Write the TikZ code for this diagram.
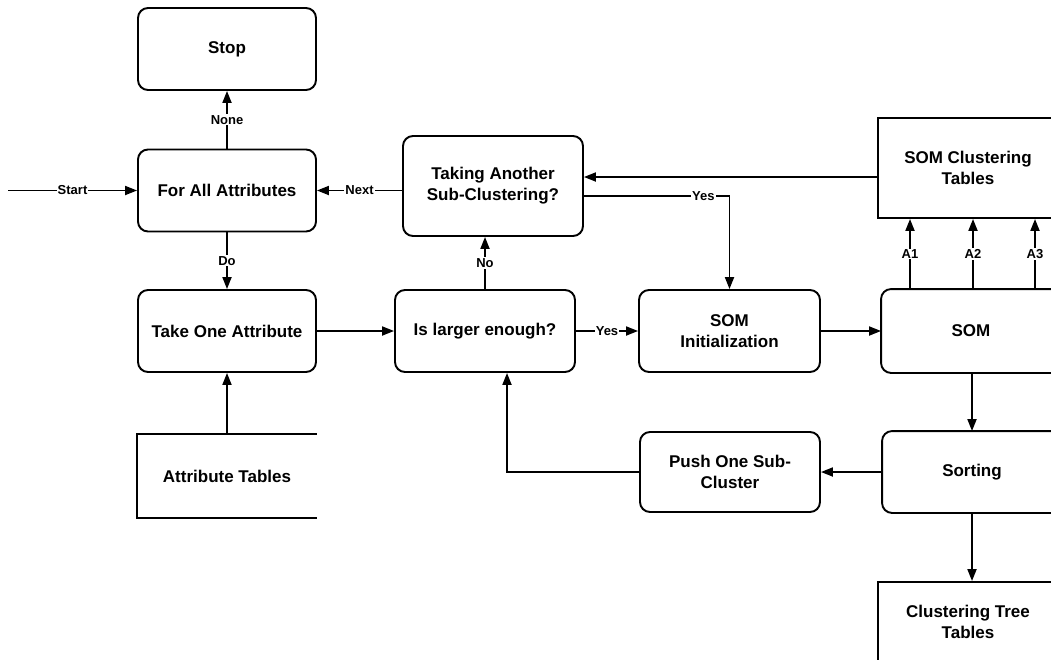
\documentclass[tikz,border=0pt]{standalone}
\usepackage{fontspec}
\setmainfont{Liberation Sans}
\usetikzlibrary{arrows.meta}
\begin{document}
\begin{tikzpicture}[x=1pt,y=-1pt,
  line width=1.9pt,
  stepbox/.style={draw, rounded corners=10pt, align=center, inner sep=0pt,
    minimum width=178pt, minimum height=82pt,
    font={\fontsize{17}{21}\selectfont\bfseries}},
  tablebox/.style={align=center, inner sep=0pt,
    minimum width=180pt, minimum height=100pt,
    font={\fontsize{17}{21}\selectfont\bfseries}},
  openbox/.style={align=center, inner sep=0pt,
    minimum width=178pt, minimum height=82pt,
    font={\fontsize{17}{21}\selectfont\bfseries}},
  arr/.style={-{Triangle[length=12pt,width=9pt]}},
  lbl/.style={fill=white, inner sep=1pt, font={\fontsize{13}{15}\selectfont\bfseries}}
]
\useasboundingbox (0,0) rectangle (1051,659);
\clip (0,0) rectangle (1051,659);
\fill[white] (0,0) rectangle (1051,659);

% left column
\node[stepbox] (stop)    at (227,49)    {Stop};
\node[stepbox] (forall)  at (227,190.5) {For All Attributes};
\node[stepbox] (takeone) at (227,331)   {Take One Attribute};
\node[openbox] (attrtab) at (227,476)   {Attribute Tables};
\draw (attrtab.north east) -- (attrtab.north west) -- (attrtab.south west) -- (attrtab.south east);

% middle
\node[stepbox, minimum width=180pt, minimum height=100pt] (taking) at (493,186)
  {Taking Another\\Sub-Clustering?};
\node[stepbox, minimum width=180pt] (islarger) at (485,331) {Is larger enough?};
\node[stepbox, minimum width=181pt] (sominit) at (729.5,331) {SOM\\Initialization};
\node[stepbox, minimum width=180pt, minimum height=80pt] (push) at (730,472)
  {Push One Sub-\\Cluster};

% right column (runs past the page edge)
\node[tablebox, draw] (somtab) at (968,168) {SOM Clustering\\Tables};
\node[openbox] (som) at (971,331) {SOM};
\draw[rounded corners=10pt] ([xshift=40pt]som.north east) -- (som.north west)
  -- (som.south west) -- ([xshift=40pt]som.south east);
\node[openbox, minimum height=80pt] (sorting) at (972,472) {Sorting};
\draw[rounded corners=10pt] ([xshift=40pt]sorting.north east) -- (sorting.north west)
  -- (sorting.south west) -- ([xshift=40pt]sorting.south east);
\node[tablebox, draw, minimum height=80pt] (treetab) at (968,622) {Clustering Tree\\Tables};

% connectors
\coordinate (start) at (8,190.5);
\draw[arr] (start) -- node[lbl] {Start} (forall.west);
\draw[arr] (forall.north) -- node[lbl] {None} (stop.south);
\draw[arr] (forall.south) -- node[lbl] {Do} (takeone.north);
\draw[arr] (forall.east -| taking.west) -- node[lbl] {Next} (forall.east);
\draw[arr] (attrtab.north) -- (takeone.south);
\draw[arr] (takeone.east) -- (islarger.west);
\draw[arr] (islarger.north) -- node[lbl] {No} (islarger.north |- taking.south);
\draw[arr] (islarger.east) -- node[lbl] {Yes} (sominit.west);

\coordinate (tabout) at ([yshift=-9pt]somtab.west);
\draw[arr] (tabout) -- (tabout -| taking.east);
\coordinate (yesout) at ([yshift=-10pt]taking.east);
\draw[arr] (yesout) -| node[lbl, pos=0.41] {Yes} (sominit.north);

\draw[arr] (sominit.east) -- (som.west);
\foreach \dx/\lab in {-61/A1, 2/A2, 64/A3} {
  \coordinate (afoot) at ([xshift=\dx pt]som.north);
  \draw[arr] (afoot) -- node[lbl] {\lab} (afoot |- somtab.south);
}
\draw[arr] (som.south -| sorting.north) -- (sorting.north);
\draw[arr] (sorting.west) -- (push.east);
\coordinate (backin) at ([xshift=22pt]islarger.south);
\draw[arr] (push.west) -| (backin);
\draw[arr] (sorting.south) -- (treetab.north -| sorting.south);
\end{tikzpicture}
\end{document}
